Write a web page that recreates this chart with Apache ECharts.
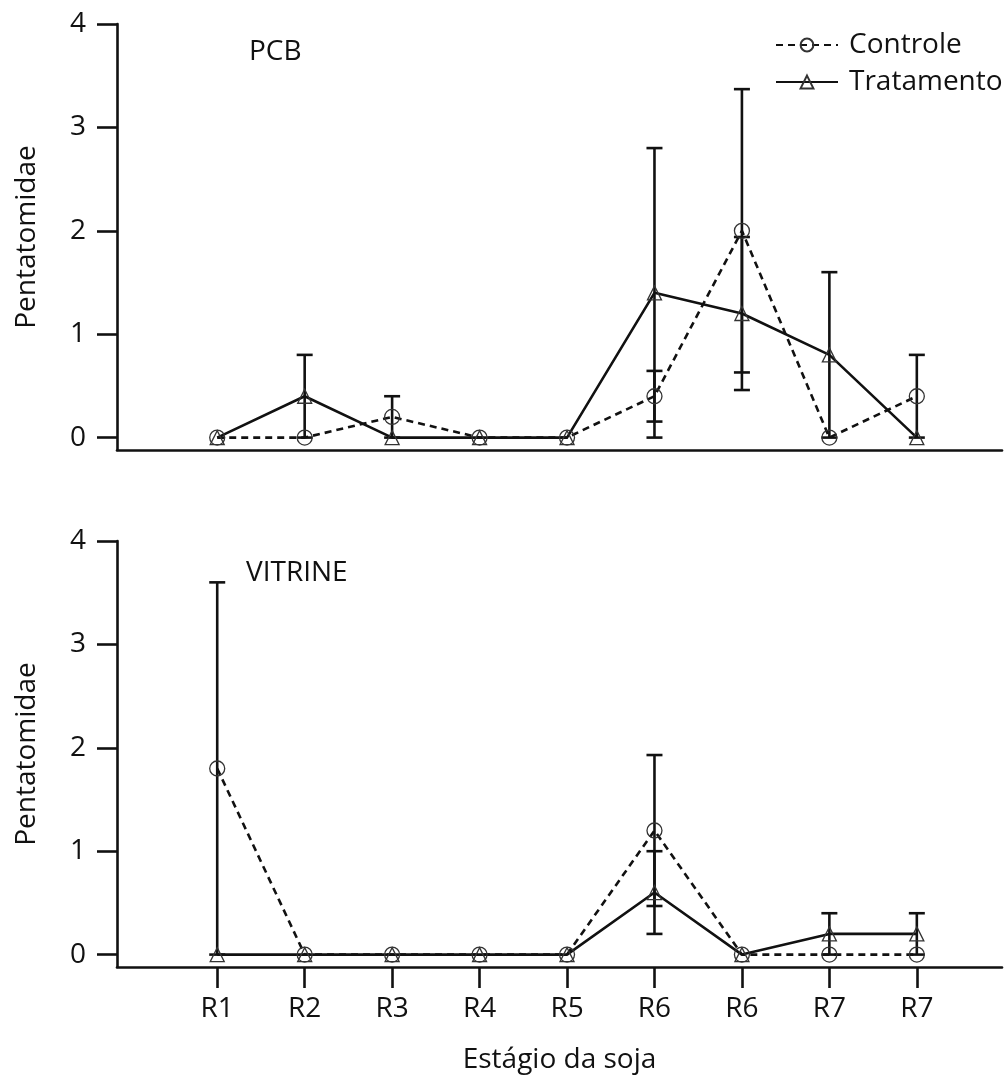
<!DOCTYPE html>
<html>
<head>
<meta charset="utf-8">
<script src="https://cdn.jsdelivr.net/npm/echarts@6/dist/echarts.min.js"></script>
<style>
  html, body { margin: 0; padding: 0; background: #fff; }
  #chart { width: 1007px; height: 1075px; }
</style>
</head>
<body>
<div id="chart"></div>
<script>
// Soybean phenological stages (sampling dates)
const stages = ['R1', 'R2', 'R3', 'R4', 'R5', 'R6', 'R6', 'R7', 'R7'];
const yTicks = [0, 1, 2, 3, 4];

// PCB panel: mean Pentatomidae and error (±)
const pcbControle = [0, 0, 0.2, 0, 0, 0.4, 2.0, 0, 0.4];
const pcbControleErr = [0, 0, 0.2, 0, 0, 0.245, 1.37, 0, 0.4];
const pcbTratamento = [0, 0.4, 0, 0, 0, 1.4, 1.2, 0.8, 0];
const pcbTratamentoErr = [0, 0.4, 0, 0, 0, 1.4, 0.74, 0.8, 0];

// VITRINE panel
const vitControle = [1.8, 0, 0, 0, 0, 1.2, 0, 0, 0];
const vitControleErr = [1.8, 0, 0, 0, 0, 0.73, 0, 0, 0];
const vitTratamento = [0, 0, 0, 0, 0, 0.6, 0, 0.2, 0.2];
const vitTratamentoErr = [0, 0, 0, 0, 0, 0.4, 0, 0.2, 0.2];

const FONT = '"Open Sans", "DejaVu Sans", sans-serif';
const FS = 28;
const INK = '#111';
const LW = 2.6;
const stageIdx = stages.map((_, i) => i);

function pts(values) {
  return values.map((v, i) => [i, v]);
}
function errPts(values, errs) {
  return values.map((v, i) => [i, v, errs[i]]);
}

function errorBarSeries(values, errs, gridIndex) {
  return {
    type: 'custom',
    xAxisIndex: gridIndex,
    yAxisIndex: gridIndex,
    silent: true,
    z: 1,
    data: errPts(values, errs),
    encode: { x: 0, y: 1 },
    renderItem: function (params, api) {
      const x = api.value(0), y = api.value(1), e = api.value(2);
      if (!e) return null;
      const lo = api.coord([x, y - e]);
      const hi = api.coord([x, y + e]);
      const cap = 8;
      const style = { stroke: INK, lineWidth: LW };
      return {
        type: 'group',
        children: [
          { type: 'line', shape: { x1: lo[0], y1: lo[1], x2: hi[0], y2: hi[1] }, style },
          { type: 'line', shape: { x1: hi[0] - cap, y1: hi[1], x2: hi[0] + cap, y2: hi[1] }, style },
          { type: 'line', shape: { x1: lo[0] - cap, y1: lo[1], x2: lo[0] + cap, y2: lo[1] }, style }
        ]
      };
    }
  };
}

function lineSeries(name, values, gridIndex, dashed) {
  return {
    name: name,
    type: 'line',
    xAxisIndex: gridIndex,
    yAxisIndex: gridIndex,
    data: pts(values),
    z: 3,
    symbol: dashed ? 'circle' : 'triangle',
    symbolSize: dashed ? 15 : 14,
    lineStyle: { color: INK, width: LW, type: dashed ? [7, 5] : 'solid' },
    itemStyle: { color: 'rgba(255,255,255,0)', borderColor: '#333', borderWidth: 1.3 },
    emphasis: { disabled: true }
  };
}

function xAxisFor(gridIndex, showLabels) {
  return {
    type: 'value',
    gridIndex: gridIndex,
    min: -1.146,
    max: 8.974,
    splitLine: { show: false },
    axisLine: { show: true, onZero: false, lineStyle: { color: INK, width: LW } },
    axisTick: {
      show: showLabels, customValues: stageIdx, length: 21, inside: false,
      lineStyle: { color: INK, width: LW }
    },
    axisLabel: {
      show: showLabels, customValues: stageIdx, margin: 28,
      color: INK, fontFamily: FONT, fontSize: FS,
      formatter: v => stages[Math.round(v)]
    },
    name: showLabels ? 'Estágio da soja' : '',
    nameLocation: 'middle',
    nameGap: 79,
    nameTextStyle: { color: INK, fontFamily: FONT, fontSize: FS }
  };
}

function yAxisFor(gridIndex) {
  return {
    type: 'value',
    gridIndex: gridIndex,
    min: -0.12,
    max: 4,
    splitLine: { show: false },
    axisLine: { show: true, onZero: false, lineStyle: { color: INK, width: LW } },
    axisTick: { customValues: yTicks, length: 20, lineStyle: { color: INK, width: LW } },
    axisLabel: {
      customValues: yTicks, margin: 31,
      color: INK, fontFamily: FONT, fontSize: FS
    },
    name: 'Pentatomidae',
    nameLocation: 'middle',
    nameGap: 76,
    nameRotate: 90,
    nameTextStyle: { color: INK, fontFamily: FONT, fontSize: FS }
  };
}

const chart = echarts.init(document.getElementById('chart'), null, { renderer: 'canvas' });

chart.setOption({
  animation: false,
  backgroundColor: '#fff',
  grid: [
    { left: 117, top: 24, width: 885, height: 426, containLabel: false, outerBoundsMode: 'none' },
    { left: 117, top: 541, width: 885, height: 426, containLabel: false, outerBoundsMode: 'none' }
  ],
  xAxis: [xAxisFor(0, false), xAxisFor(1, true)],
  yAxis: [yAxisFor(0), yAxisFor(1)],
  legend: {
    orient: 'vertical',
    left: 770,
    top: 26,
    itemWidth: 62,
    itemHeight: 16,
    itemGap: 9,
    data: ['Controle', 'Tratamento'],
    textStyle: { color: INK, fontFamily: FONT, fontSize: FS, padding: [0, 0, 0, 6] },
    selectedMode: false
  },
  graphic: [
    { type: 'text', left: 249, top: 38, style: { text: 'PCB', fill: INK, font: FS + 'px ' + FONT } },
    { type: 'text', left: 246, top: 559, style: { text: 'VITRINE', fill: INK, font: FS + 'px ' + FONT } }
  ],
  series: [
    errorBarSeries(pcbControle, pcbControleErr, 0),
    errorBarSeries(pcbTratamento, pcbTratamentoErr, 0),
    lineSeries('Controle', pcbControle, 0, true),
    lineSeries('Tratamento', pcbTratamento, 0, false),
    errorBarSeries(vitControle, vitControleErr, 1),
    errorBarSeries(vitTratamento, vitTratamentoErr, 1),
    lineSeries('Controle', vitControle, 1, true),
    lineSeries('Tratamento', vitTratamento, 1, false)
  ]
});
</script>
</body>
</html>
